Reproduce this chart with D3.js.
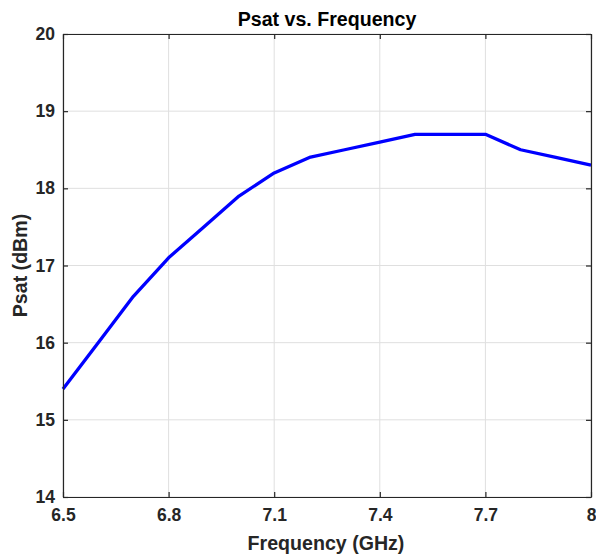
<!DOCTYPE html>
<html><head><meta charset="utf-8">
<script src="https://cdn.jsdelivr.net/npm/d3@7"></script>
<style>body{margin:0;background:#fff;} text{font-family:"Liberation Sans",Arial,Helvetica,sans-serif;font-weight:bold;}</style>
</head><body>
<svg id="c" width="596" height="558"></svg>
<script>
const frequency = [6.5, 6.6, 6.7, 6.8, 6.9, 7.0, 7.1, 7.2, 7.3, 7.4, 7.5, 7.6, 7.7, 7.8, 7.9, 8.0];
const psat      = [15.4, 16.0, 16.6, 17.1, 17.5, 17.9, 18.2, 18.4, 18.5, 18.6, 18.7, 18.7, 18.7, 18.5, 18.4, 18.3];
const xTicks = [6.5, 6.8, 7.1, 7.4, 7.7, 8];
const yTicks = [14, 15, 16, 17, 18, 19, 20];
const chartTitle = "Psat vs. Frequency";
const xLabel = "Frequency (GHz)";
const yLabel = "Psat (dBm)";

(function () {
const L = 63, R = 591, T = 34, B = 497;
const svg = d3.select("#c");
const x = d3.scaleLinear().domain([6.5, 8]).range([L, R]);
const y = d3.scaleLinear().domain([14, 20]).range([B, T]);
const axisCol = "#262626";

// grid
svg.append("g").selectAll("line").data(xTicks).join("line")
  .attr("x1", d => x(d)).attr("x2", d => x(d)).attr("y1", T).attr("y2", B)
  .attr("stroke", "#dfdfdf").attr("stroke-width", 1);
svg.append("g").selectAll("line").data(yTicks).join("line")
  .attr("x1", L).attr("x2", R).attr("y1", d => y(d)).attr("y2", d => y(d))
  .attr("stroke", "#dfdfdf").attr("stroke-width", 1);

// data line
svg.append("path").datum(frequency.map((f, i) => [f, psat[i]]))
  .attr("fill", "none").attr("stroke", "#0000ff").attr("stroke-width", 3.3)
  .attr("stroke-linejoin", "round")
  .attr("d", d3.line().x(d => x(d[0])).y(d => y(d[1])));

// axes
const fmtX = d => d3.format("")(d);
const gBottom = svg.append("g").attr("transform", `translate(0,${B})`)
  .call(d3.axisBottom(x).tickValues(xTicks).tickFormat(fmtX).tickSizeInner(-5).tickSizeOuter(0).tickPadding(12));
const gTop = svg.append("g").attr("transform", `translate(0,${T})`)
  .call(d3.axisTop(x).tickValues(xTicks).tickFormat("").tickSizeInner(-5).tickSizeOuter(0));
const gLeft = svg.append("g").attr("transform", `translate(${L},0)`)
  .call(d3.axisLeft(y).tickValues(yTicks).tickFormat(d3.format("d")).tickSizeInner(-5).tickSizeOuter(0).tickPadding(8));
const gRight = svg.append("g").attr("transform", `translate(${R},0)`)
  .call(d3.axisRight(y).tickValues(yTicks).tickFormat("").tickSizeInner(-5).tickSizeOuter(0));
[gBottom, gTop, gLeft, gRight].forEach(g => {
  g.selectAll("path,line").attr("stroke", axisCol).attr("stroke-width", 1.2);
  g.selectAll("text").attr("fill", axisCol).style("font-size", "17.5px")
    .style("font-family", "'Liberation Sans',Arial,sans-serif").style("font-weight", "bold");
});
gBottom.selectAll("text").attr("dy", "0.71em");

// labels
svg.append("text").attr("x", (L + R) / 2).attr("y", 26).attr("text-anchor", "middle")
  .attr("fill", "#000").style("font-size", "19.6px").text(chartTitle);
svg.append("text").attr("x", (L + R) / 2 - 1).attr("y", 550).attr("text-anchor", "middle")
  .attr("fill", axisCol).style("font-size", "19.6px").text(xLabel);
svg.append("text").attr("transform", `translate(27,${(T + B) / 2}) rotate(-90)`).attr("text-anchor", "middle")
  .attr("fill", axisCol).style("font-size", "19.6px").text(yLabel);
})();
</script>
</body></html>
